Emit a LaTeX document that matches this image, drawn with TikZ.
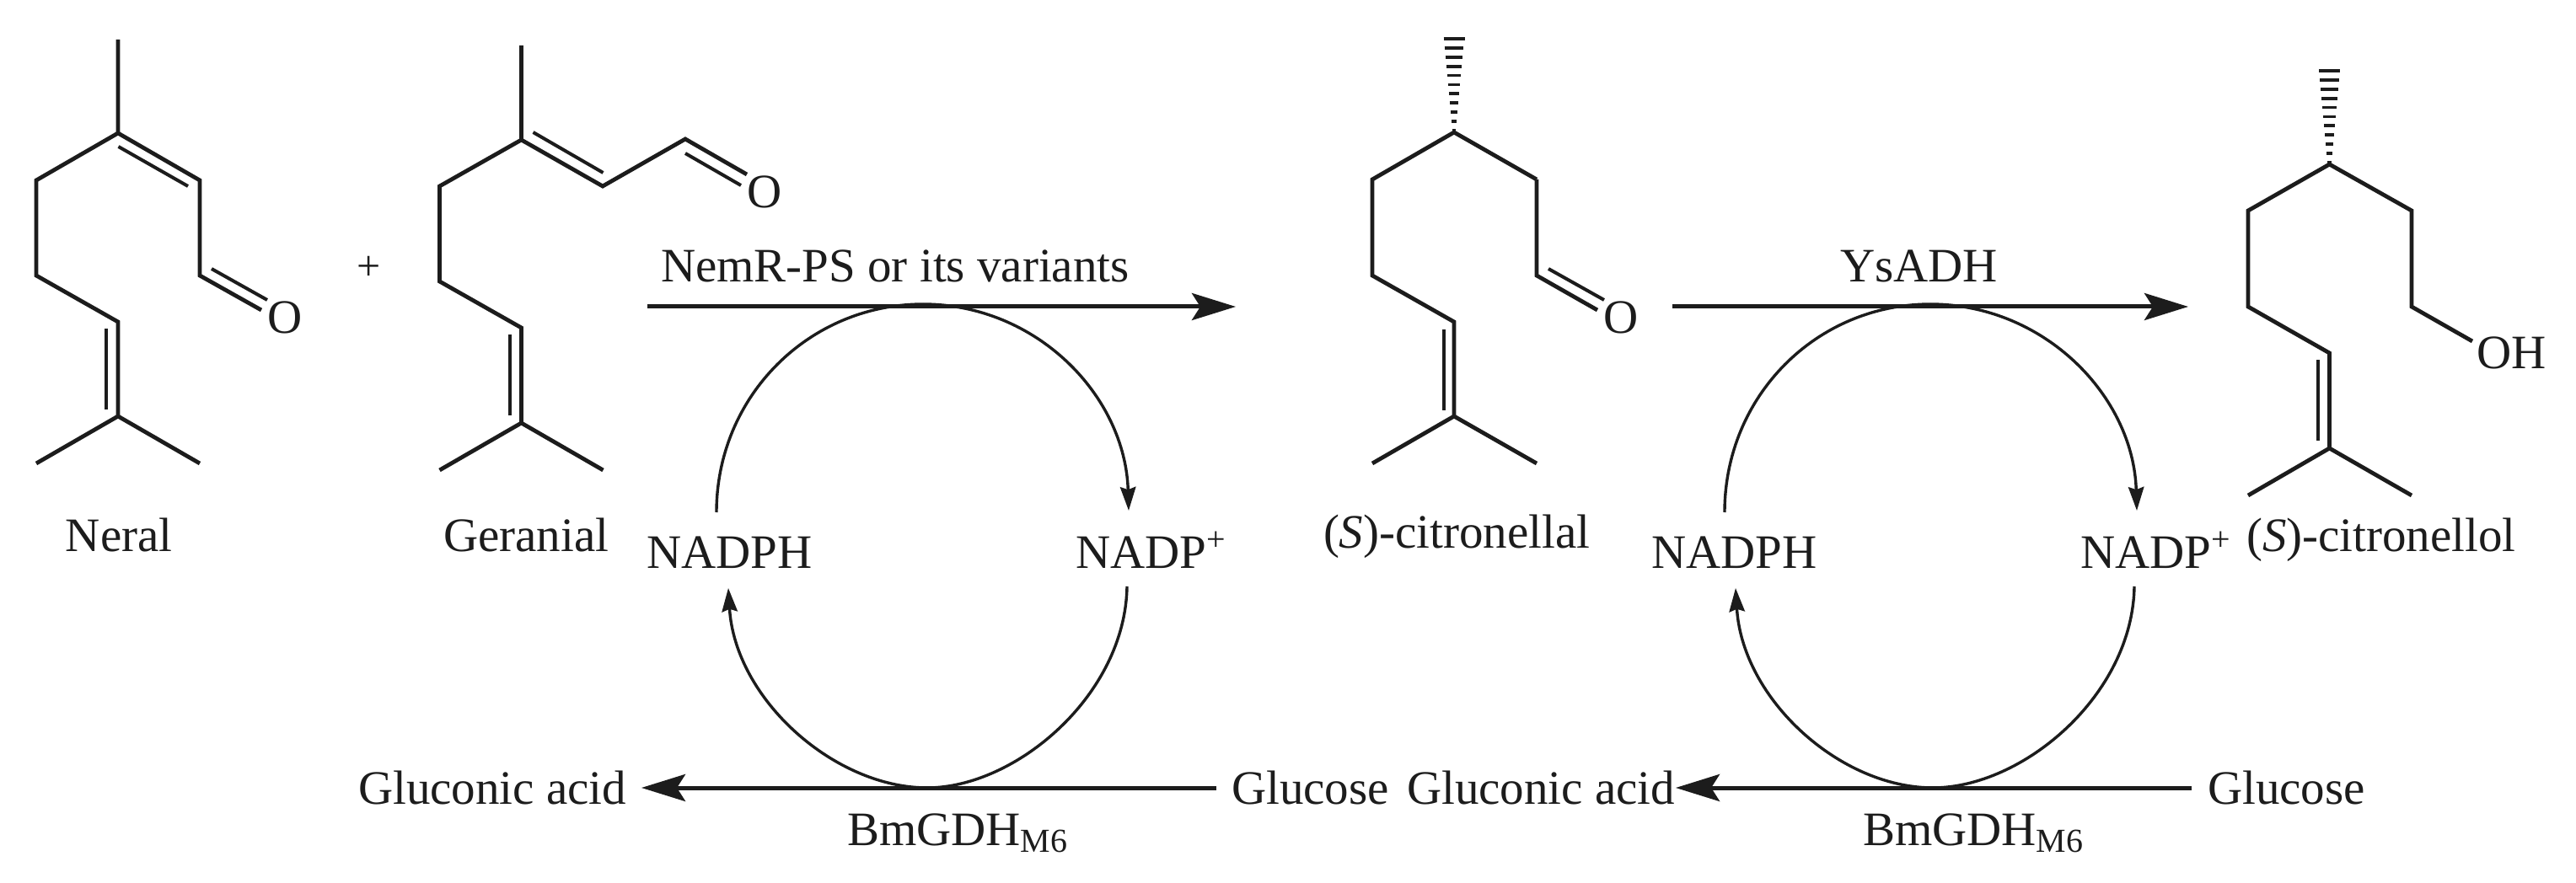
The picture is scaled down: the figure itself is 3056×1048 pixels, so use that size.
\documentclass[tikz,border=0pt]{standalone}
\usepackage{fontspec}
\setmainfont{Liberation Serif}
\usetikzlibrary{arrows.meta}
\definecolor{ink}{HTML}{1C1C1C}
\tikzset{
  x=0.25pt,y=-0.25pt,
  bond/.style={draw=ink,line width=1.2pt},
  inner bond/.style={draw=ink,line width=1.0pt},
  hash/.style={draw=ink,line width=0.95pt},
  main arrow/.style={draw=ink,line width=1.25pt,-{Stealth[length=13pt,width=8pt,inset=2.5pt]}},
  main line/.style={draw=ink,line width=1.25pt},
  cycle line/.style={draw=ink,line width=0.85pt},
  cycle arrow/.style={draw=ink,line width=0.85pt,-{Stealth[length=7pt,width=4.6pt,inset=0.8pt]}},
  txt/.style={text=ink,anchor=base west,inner sep=0pt,outer sep=0pt,font=\fontsize{14.25}{17}\selectfont},
  atom/.style={text=ink,anchor=center,inner sep=0pt,outer sep=0pt,font=\fontsize{14.25}{17}\selectfont},
}
\begin{document}
\begin{tikzpicture}
\useasboundingbox (0,0) rectangle (3056,1048);
\fill[white] (0,0) rectangle (3056,1048);

% ---------- Neral ----------
\coordinate (n1) at (140,47);
\coordinate (n2) at (140,158);
\coordinate (n3) at (43,214);
\coordinate (n4) at (43,327);
\coordinate (n5) at (140,382);
\coordinate (n6) at (140,494);
\coordinate (n7) at (43,550);
\coordinate (n8) at (237,550);
\coordinate (n9) at (237,214);
\coordinate (n10) at (237,327);
\coordinate (n11) at (310,368);
\coordinate (ni1) at (140.5,174);
\coordinate (ni2) at (223,221);
\coordinate (ni3) at (251,319);
\coordinate (ni4) at (317,356);
\coordinate (ni5) at (126,390);
\coordinate (ni6) at (126,486);
\draw[bond] (n1) -- (n2) -- (n3) -- (n4) -- (n5) -- (n6) -- (n7);
\draw[bond] (n6) -- (n8);
\draw[bond] (n2) -- (n9) -- (n10) -- (n11);
\draw[inner bond] (ni1) -- (ni2);
\draw[inner bond] (ni3) -- (ni4);
\draw[inner bond] (ni5) -- (ni6);
\node[atom] (nO) at (338,377) {O};
\node[txt] (neral) at (78,655) {Neral};
\node[atom,font=\fontsize{12.5}{15}\selectfont] (plus) at (438,318) {+};

% ---------- Geranial ----------
\coordinate (g1) at (618.5,54);
\coordinate (g2) at (618.5,166);
\coordinate (g3) at (521.5,221);
\coordinate (g4) at (521.5,334);
\coordinate (g5) at (618.5,389);
\coordinate (g6) at (618.5,502);
\coordinate (g7) at (521.5,558);
\coordinate (g8) at (715.5,558);
\coordinate (g9) at (715,221);
\coordinate (g10) at (813,165);
\coordinate (g11) at (886,207);
\coordinate (gi1) at (632.5,157);
\coordinate (gi2) at (715.5,205);
\coordinate (gi3) at (813,182);
\coordinate (gi4) at (879,220);
\coordinate (gi5) at (605,397);
\coordinate (gi6) at (605,493);
\draw[bond] (g1) -- (g2) -- (g3) -- (g4) -- (g5) -- (g6) -- (g7);
\draw[bond] (g6) -- (g8);
\draw[bond] (g2) -- (g9) -- (g10) -- (g11);
\draw[inner bond] (gi1) -- (gi2);
\draw[inner bond] (gi3) -- (gi4);
\draw[inner bond] (gi5) -- (gi6);
\node[atom] (gO) at (907,228) {O};
\node[txt] (geranial) at (526,655) {Geranial};

% ---------- (S)-citronellal ----------
\coordinate (c2) at (1725,157);
\coordinate (c3) at (1628,213);
\coordinate (c4) at (1628,327);
\coordinate (c5) at (1725,382);
\coordinate (c6) at (1725,494);
\coordinate (c7) at (1628,550);
\coordinate (c8) at (1823,550);
\coordinate (c9) at (1823,213);
\coordinate (c10) at (1823,327);
\coordinate (c11) at (1895,368);
\coordinate (ci3) at (1837,319);
\coordinate (ci4) at (1903,356);
\coordinate (ci5) at (1713,391);
\coordinate (ci6) at (1713,487);
\draw[bond] (c9) -- (c2) -- (c3) -- (c4) -- (c5) -- (c6) -- (c7);
\draw[bond] (c6) -- (c8);
\draw[bond] (c9) -- (c10) -- (c11);
\draw[inner bond] (ci3) -- (ci4);
\draw[inner bond] (ci5) -- (ci6);
\foreach \i in {0,...,10}{
  \pgfmathsetmacro{\yy}{46+\i*10.9}
  \pgfmathsetmacro{\hw}{11.5*(1-\i/11)+1}
  \draw[hash] (1725-\hw,\yy) -- (1725+\hw,\yy);
}
\node[atom] (cO) at (1923,377) {O};
\node[txt] (citral) at (1570,650) {(\textit{S})-citronellal};

% ---------- (S)-citronellol ----------
\coordinate (d2) at (2763.5,195);
\coordinate (d3) at (2667,250);
\coordinate (d4) at (2667,364);
\coordinate (d5) at (2763.5,419);
\coordinate (d6) at (2763.5,532);
\coordinate (d7) at (2667,588);
\coordinate (d8) at (2861,588);
\coordinate (d9) at (2861,250);
\coordinate (d10) at (2861,364);
\coordinate (d11) at (2933,405);
\coordinate (di5) at (2750,427);
\coordinate (di6) at (2750,523);
\draw[bond] (d11) -- (d10) -- (d9) -- (d2) -- (d3) -- (d4) -- (d5) -- (d6) -- (d7);
\draw[bond] (d6) -- (d8);
\draw[inner bond] (di5) -- (di6);
\foreach \i in {0,...,10}{
  \pgfmathsetmacro{\yy}{84+\i*10.9}
  \pgfmathsetmacro{\hw}{11.5*(1-\i/11)+1}
  \draw[hash] (2763.5-\hw,\yy) -- (2763.5+\hw,\yy);
}
\node[txt] (dOH) at (2938,438) {OH};
\node[txt] (citrol) at (2665,655) {(\textit{S})-citronellol};

% ---------- Cycle 1 ----------
\coordinate (a1s) at (768,364);
\coordinate (a1e) at (1466,364);
\coordinate (b1s) at (1443,935);
\coordinate (b1e) at (761,935);
\coordinate (u1s) at (850,608);
\coordinate (u1m) at (1095,361);
\coordinate (u1e) at (1339,606);
\coordinate (l1s) at (1337,696);
\coordinate (l1m) at (1100,935);
\coordinate (l1e) at (864,698);
\draw[main arrow] (a1s) -- (a1e);
\draw[main arrow] (b1s) -- (b1e);
\draw[cycle line] (u1s) .. controls (850,470) and (960,361) .. (u1m);
\draw[cycle arrow] (u1m) .. controls (1230,361) and (1335,470) .. (u1e);
\draw[cycle line] (l1s) .. controls (1335,825) and (1205,935) .. (l1m);
\draw[cycle arrow] (l1m) .. controls (990,935) and (872,830) .. (l1e);
\node[txt] (nem) at (784,335) {NemR-PS or its variants};
\node[txt] (nadph1) at (767,674) {NADPH};
\node[txt] (nadp1) at (1276,674) {NADP\textsuperscript{+}};
\node[txt] (glca1) at (425,954) {Gluconic acid};
\node[txt] (glc1) at (1461,954) {Glucose};
\node[txt] (gdh1) at (1005,1003) {BmGDH\textsubscript{M6}};

% ---------- Cycle 2 ----------
\coordinate (a2s) at (1984,364);
\coordinate (a2e) at (2596,364);
\coordinate (b2s) at (2600,935);
\coordinate (b2e) at (1988,935);
\coordinate (u2s) at (2046,608);
\coordinate (u2m) at (2290,361);
\coordinate (u2e) at (2535,606);
\coordinate (l2s) at (2532,696);
\coordinate (l2m) at (2293,935);
\coordinate (l2e) at (2059,698);
\draw[main arrow] (a2s) -- (a2e);
\draw[main arrow] (b2s) -- (b2e);
\draw[cycle line] (u2s) .. controls (2046,470) and (2155,361) .. (u2m);
\draw[cycle arrow] (u2m) .. controls (2425,361) and (2531,470) .. (u2e);
\draw[cycle line] (l2s) .. controls (2530,825) and (2400,935) .. (l2m);
\draw[cycle arrow] (l2m) .. controls (2183,935) and (2067,830) .. (l2e);
\node[txt] (ys) at (2183,335) {YsADH};
\node[txt] (nadph2) at (1959,674) {NADPH};
\node[txt] (nadp2) at (2468,674) {NADP\textsuperscript{+}};
\node[txt] (glca2) at (1669,954) {Gluconic acid};
\node[txt] (glc2) at (2619,954) {Glucose};
\node[txt] (gdh2) at (2210,1003) {BmGDH\textsubscript{M6}};
\end{tikzpicture}
\end{document}
